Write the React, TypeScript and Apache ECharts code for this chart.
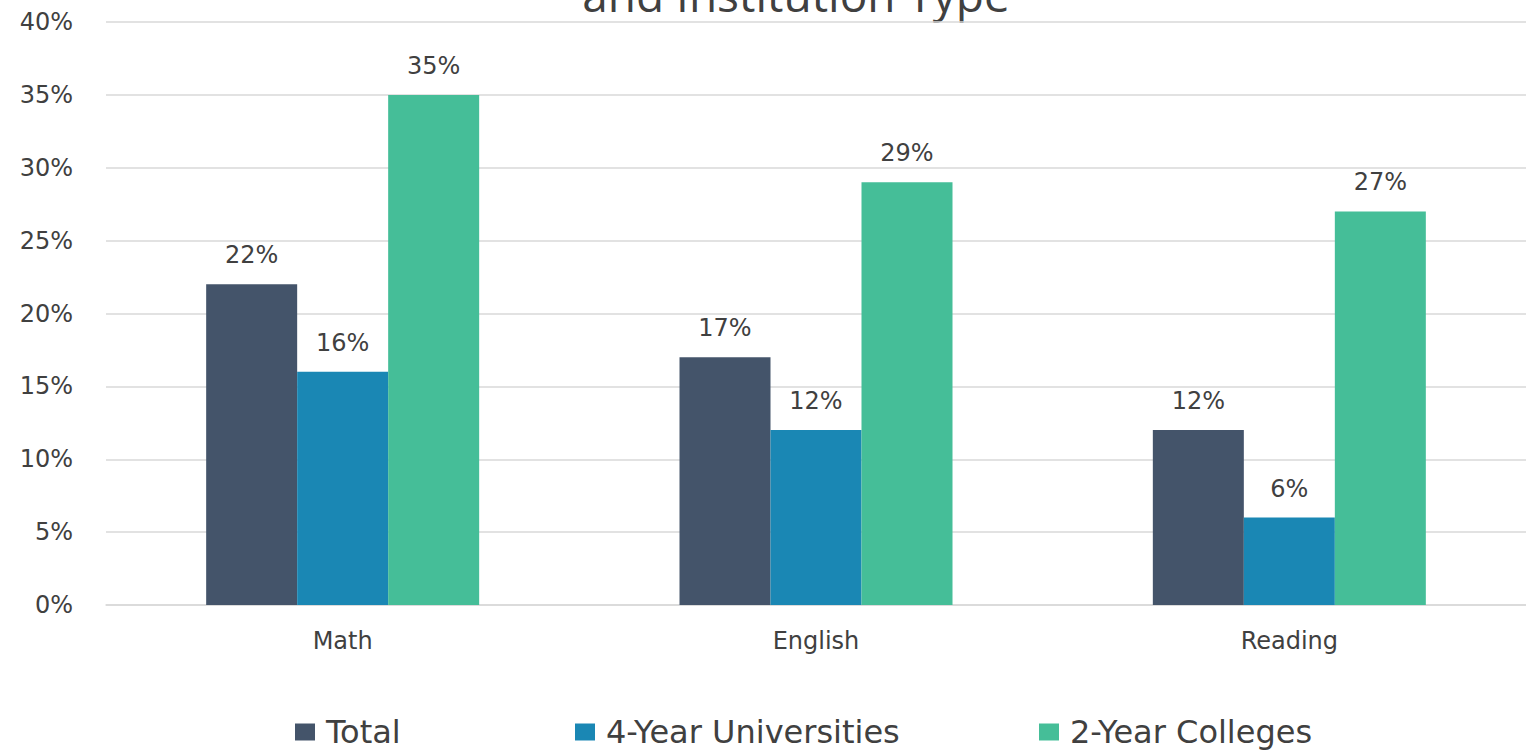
import React, { useEffect, useRef } from "react";
import * as echarts from "echarts";

const categories = ["Math", "English", "Reading"];
const seriesNames = ["Total", "4-Year Universities", "2-Year Colleges"];
const totalValues = [22, 17, 12];
const fourYearValues = [16, 12, 6];
const twoYearValues = [35, 29, 27];
const yTicks = { min: 0, max: 40, interval: 5 };
const titleText = "and Institution Type";

const colors = ["#44546A", "#1A87B4", "#45BE98"];
const FONT = "DejaVu Sans";

export default function App() {
  const ref = useRef<HTMLDivElement>(null);
  useEffect(() => {
    if (!ref.current) return;
    const chart = echarts.init(ref.current, undefined, { renderer: "svg" });
    const values = [totalValues, fourYearValues, twoYearValues];
    const legendLefts = [295, 575, 1039];
    chart.setOption({
      animation: false,
      backgroundColor: "#ffffff",
      graphic: [
        {
          type: "text",
          x: 796,
          y: 17,
          style: {
            text: titleText,
            font: `46px "Open Sans"`,
            fill: "#404040",
            textAlign: "center",
            textVerticalAlign: "bottom",
          },
        },
      ],
      legend: seriesNames.map((n, i) => ({
        data: [n],
        left: legendLefts[i],
        top: 716,
        padding: 0,
        itemWidth: 20,
        itemHeight: 17,
        itemGap: 0,
        icon: "rect",
        textStyle: { fontFamily: FONT, fontSize: 32, color: "#404040", padding: [0, 0, 0, 6] },
        selectedMode: false,
      })),
      grid: { left: 106, right: -2, top: 22, bottom: 147, containLabel: false },
      xAxis: {
        type: "category",
        data: categories,
        axisLine: { show: true, lineStyle: { color: "#d9d9d9", width: 1.5 } },
        axisTick: { show: false },
        axisLabel: { fontFamily: FONT, fontSize: 24, color: "#404040", margin: 24 },
      },
      yAxis: {
        type: "value",
        min: yTicks.min,
        max: yTicks.max,
        interval: yTicks.interval,
        axisLine: { show: false },
        axisTick: { show: false },
        splitLine: { lineStyle: { color: "#d9d9d9", width: 1.5 } },
        axisLabel: { formatter: "{value}%", fontFamily: FONT, fontSize: 24, color: "#404040", margin: 33 },
      },
      series: seriesNames.map((n, i) => ({
        name: n,
        type: "bar",
        data: values[i],
        barWidth: 91,
        barGap: "0%",
        itemStyle: { color: colors[i] },
        label: {
          show: true,
          position: "top",
          distance: 17,
          formatter: "{c}%",
          fontFamily: FONT,
          fontSize: 24,
          color: "#404040",
        },
      })),
    });
    return () => chart.dispose();
  }, []);
  return <div ref={ref} style={{ width: 1526, height: 752, position: "absolute", left: 0, top: 0 }} />;
}
